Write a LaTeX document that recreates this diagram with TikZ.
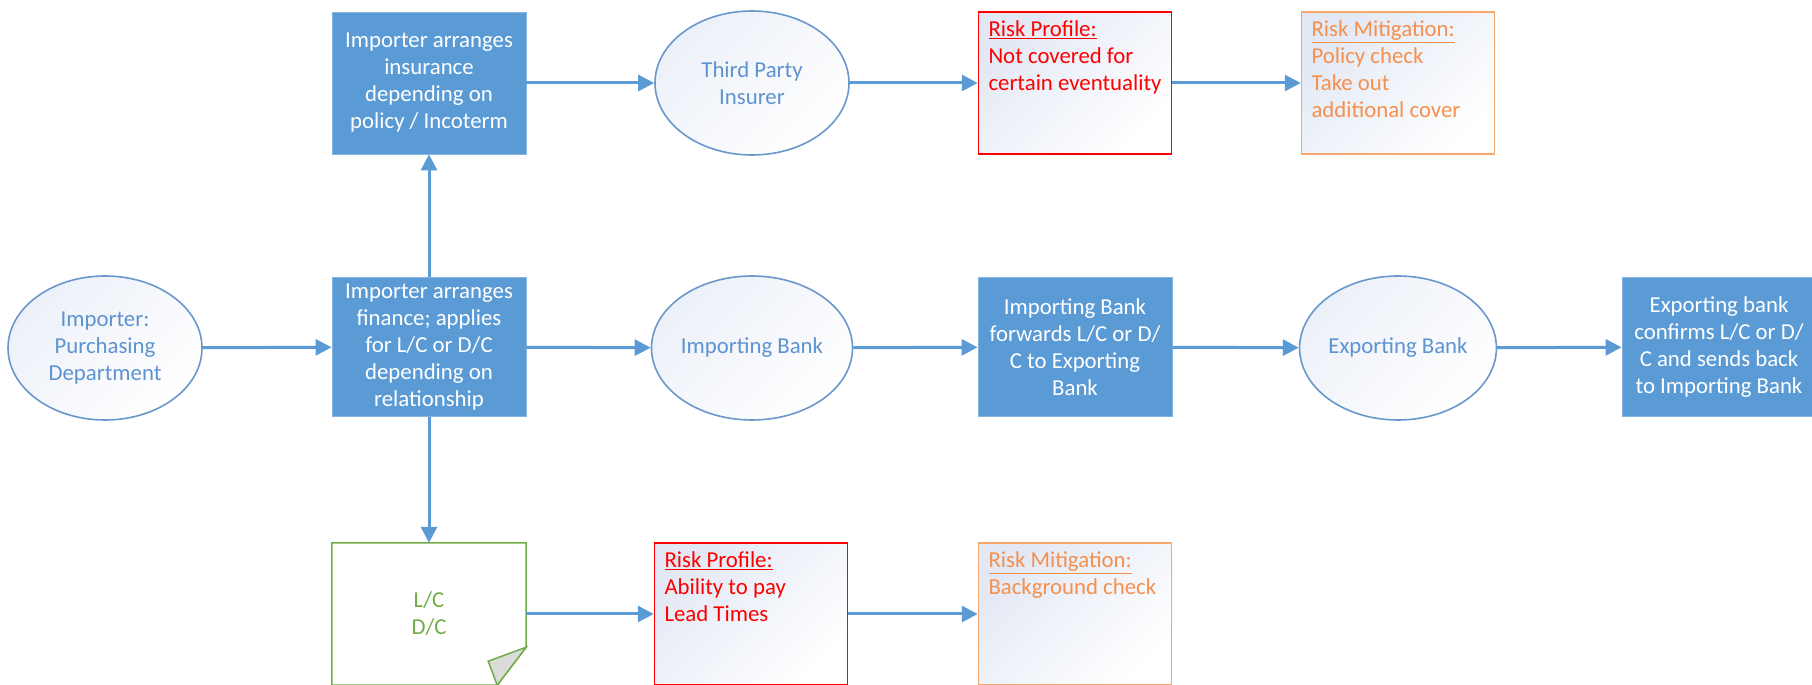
\documentclass[tikz,border=0pt]{standalone}
\usepackage{fontspec}
\setmainfont{Carlito}
\usetikzlibrary{arrows.meta,calc,shapes.geometric}
\definecolor{flowblue}{HTML}{5B9BD5}
\definecolor{partyline}{HTML}{6A97CC}
\definecolor{partytext}{HTML}{5E93D1}
\definecolor{paleshade}{HTML}{E2E8F4}
\definecolor{partyshade}{HTML}{ECF0F8}
\definecolor{mitline}{HTML}{F6A76E}
\definecolor{mittext}{HTML}{F5904E}
\definecolor{docgreen}{HTML}{70AD47}
\tikzset{
  tradebox/.style={rectangle,fill=flowblue,draw=flowblue!75!white,line width=.8pt,text=white,align=center,
                   minimum width=194pt,minimum height=139pt,inner sep=0pt},
  tradeparty/.style={ellipse,draw=partyline,line width=1.6pt,top color=partyshade,bottom color=white,shading angle=45,
                   text=partytext,align=center,minimum width=194pt,minimum height=144pt,inner sep=0pt},
  riskprof/.style={rectangle,draw=red,line width=1.5pt,top color=paleshade,bottom color=white,shading angle=45,
                   text=red,inner xsep=10pt,inner ysep=9pt},
  riskmit/.style={riskprof,draw=mitline,text=mittext},
  tradeflow/.style={line width=3pt,draw=flowblue,-{Triangle[length=16pt,width=16pt,fill=flowblue]}}
}

\begin{document}
\begin{tikzpicture}[x=1pt,y=1pt,font=\fontsize{22.8}{27}\selectfont]
\useasboundingbox (0,0) rectangle (1812,685);
% middle row: importer -> banks
\node (imp)  [tradeparty] at (105,337)  {Importer:\\Purchasing\\Department};
\node (fin)  [tradebox]   at (429,338)  {Importer arranges\\finance; applies\\for L/C or D/C\\depending on\\relationship};
\node (ib)   [tradeparty] at (752,337)  {Importing Bank};
\node (fwd)  [tradebox]   at (1075,338) {Importing Bank\\forwards L/C or D/\\C to Exporting\\Bank};
\node (eb)   [tradeparty] at (1398,337) {Exporting Bank};
\node (conf) [tradebox]   at (1719,338) {Exporting bank\\confirms L/C or D/\\C and sends back\\to Importing Bank};
% top row: insurance
\node (ins)  [tradebox,minimum height=142pt] at (429,602) {Importer arranges\\insurance\\depending on\\policy / Incoterm};
\node (tpi)  [tradeparty] at (752,602)  {Third Party\\Insurer};
\node (rp1)  [riskprof]   at (1075,602) {\parbox[c][124pt][t]{173pt}{\underline{Risk Profile:}\\Not covered for\\certain eventuality}};
\node (rm1)  [riskmit]    at (1398,602) {\parbox[c][124pt][t]{173pt}{\underline{Risk Mitigation:}\\Policy check\\Take out\\additional cover}};
% bottom row: letter of credit, page with turned corner
\node (doc)  [minimum width=194pt,minimum height=142pt,inner sep=0pt,text=docgreen,align=center] at (429,71) {L/C\\D/C};
\draw[docgreen,line width=1.5pt] (doc.north west) -- (doc.north east) -- ($(doc.south east)+(0,38)$)
   -- ($(doc.south east)+(-29,0)$) -- (doc.south west) -- cycle;
\draw[docgreen,line width=1.5pt,fill=gray!28] ($(doc.south east)+(0,38)$) -- ($(doc.south east)+(-38,24)$)
   -- ($(doc.south east)+(-29,0)$) -- cycle;
\node (rp2)  [riskprof]   at (751,71)  {\parbox[c][124pt][t]{173pt}{\underline{Risk Profile:}\\Ability to pay\\Lead Times}};
\node (rm2)  [riskmit]    at (1075,71) {\parbox[c][124pt][t]{173pt}{\underline{Risk Mitigation:}\\Background check}};

\draw[tradeflow] (imp) -- (fin);
\draw[tradeflow] (fin) -- (ib);
\draw[tradeflow] (ib) -- (fwd);
\draw[tradeflow] (fwd) -- (eb);
\draw[tradeflow] (eb) -- (conf);
\draw[tradeflow] (fin) -- (ins);
\draw[tradeflow] (ins) -- (tpi);
\draw[tradeflow] (tpi) -- (rp1);
\draw[tradeflow] (rp1) -- (rm1);
\draw[tradeflow] (fin) -- (doc);
\draw[tradeflow] (doc) -- (rp2);
\draw[tradeflow] (rp2) -- (rm2);
\end{tikzpicture}
\end{document}
